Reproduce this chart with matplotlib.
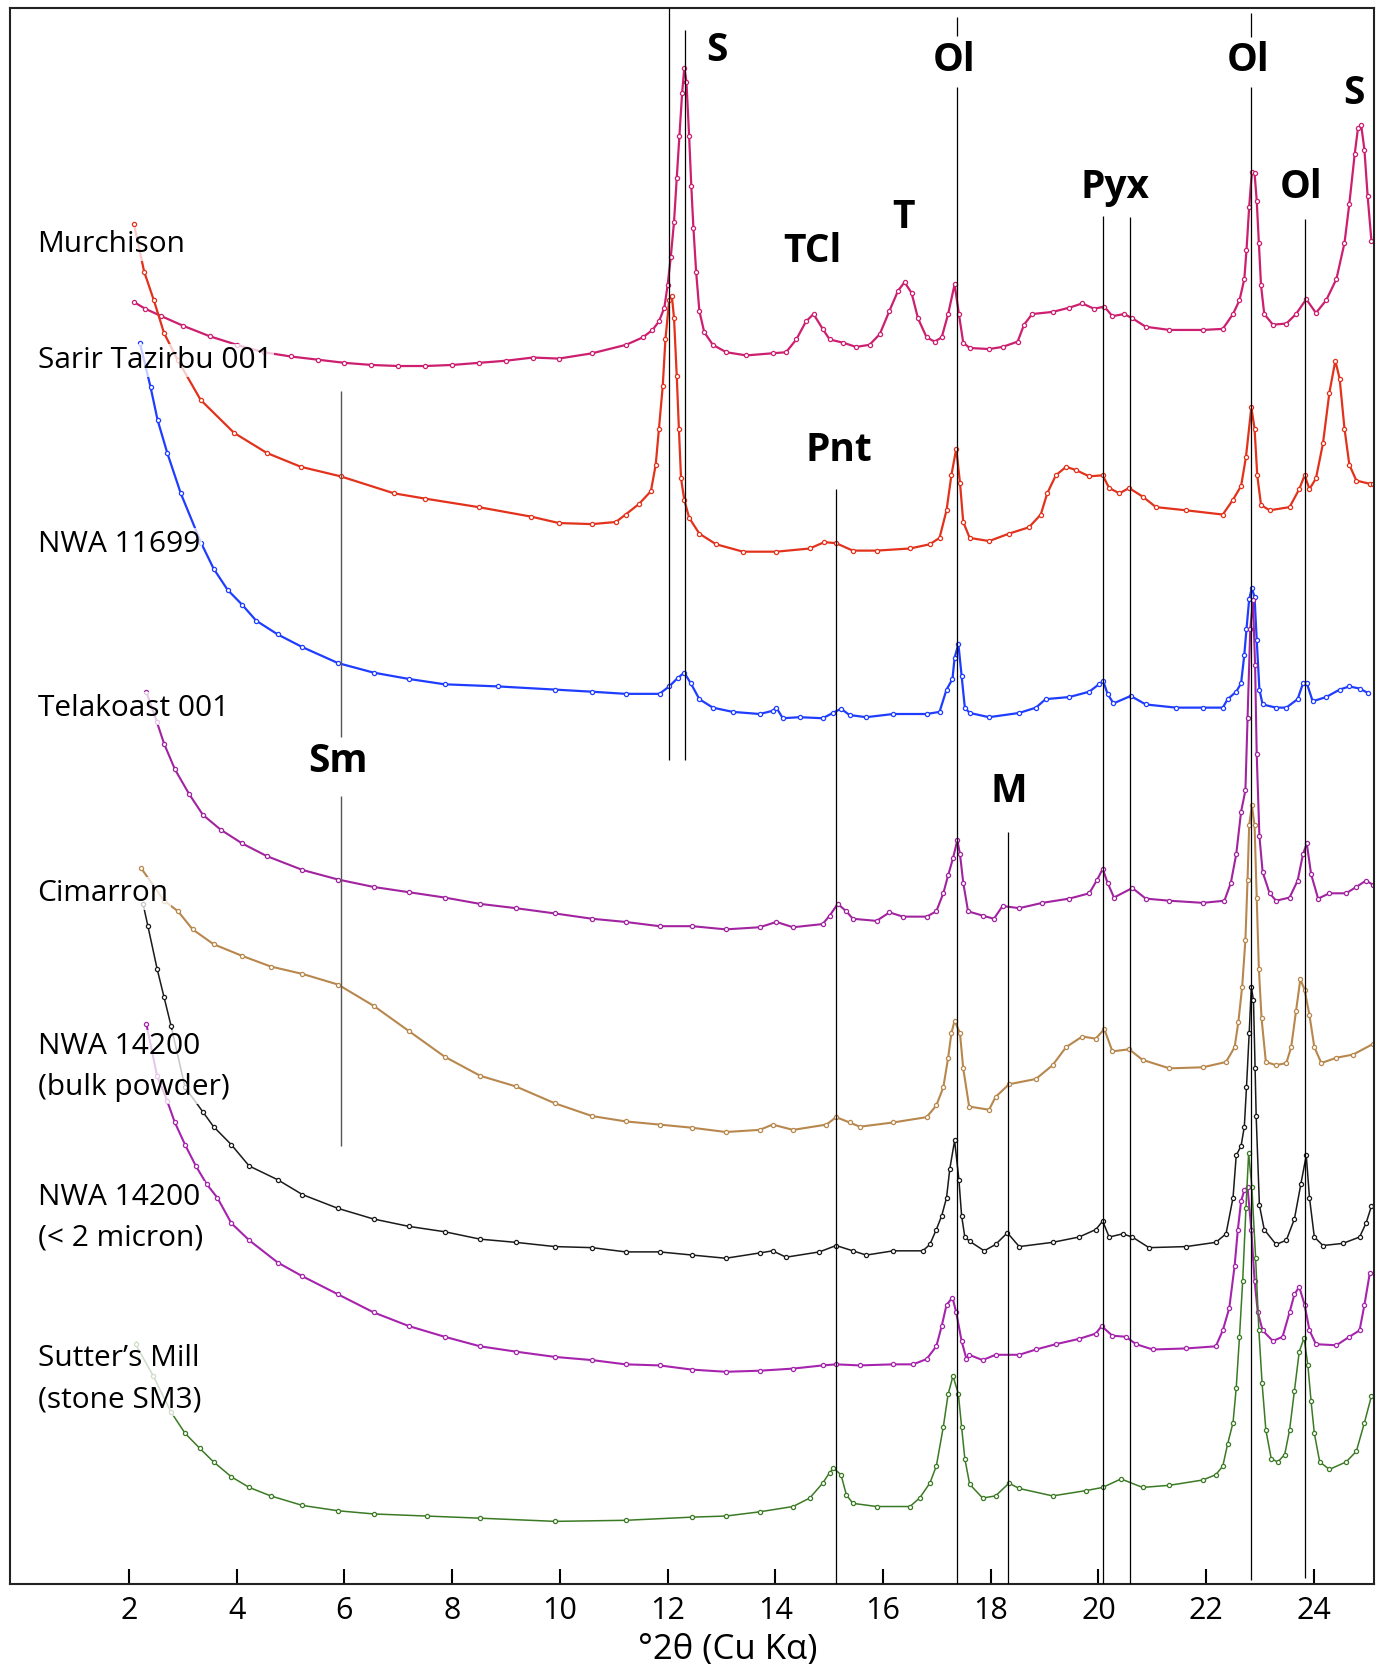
import matplotlib
matplotlib.use("Agg")
import matplotlib.pyplot as plt

# XRD traces, stacked (x in deg 2theta, y in offset intensity)
murchison = [(2.10, 1208), (2.3, 1202), (2.6, 1195), (3.0, 1186), (3.5, 1176), (4.0, 1168), (4.5, 1161),
             (5.0, 1157), (5.5, 1154), (6.0, 1151), (6.5, 1149), (7.0, 1148), (7.5, 1148), (8.0, 1149),
             (8.5, 1151), (9.0, 1153), (9.5, 1156), (9.98, 1155), (10.6, 1160), (11.23, 1168), (11.54, 1175),
             (11.72, 1182), (11.84, 1190), (11.94, 1203), (12.0, 1224), (12.06, 1251), (12.12, 1284),
             (12.17, 1325), (12.22, 1365), (12.27, 1405), (12.31, 1429), (12.35, 1416), (12.40, 1365),
             (12.44, 1318), (12.48, 1278), (12.53, 1237), (12.59, 1200), (12.68, 1180), (12.84, 1168),
             (13.09, 1161), (13.46, 1158), (13.95, 1160), (14.2, 1161), (14.39, 1173), (14.57, 1190),
             (14.71, 1197), (14.88, 1183), (15.01, 1173), (15.26, 1170), (15.5, 1166), (15.75, 1168),
             (15.94, 1178), (16.12, 1200), (16.28, 1219), (16.40, 1227), (16.53, 1217), (16.65, 1193),
             (16.81, 1175), (16.96, 1171), (17.09, 1175), (17.21, 1197), (17.33, 1225), (17.41, 1197),
             (17.49, 1170), (17.61, 1165), (17.97, 1164), (18.22, 1166), (18.5, 1171), (18.62, 1187),
             (18.77, 1197), (19.15, 1199), (19.46, 1203), (19.7, 1207), (19.92, 1202), (20.11, 1204),
             (20.26, 1195), (20.48, 1197), (20.63, 1193), (20.88, 1185), (21.32, 1182), (21.94, 1182),
             (22.31, 1183), (22.5, 1197), (22.62, 1210), (22.71, 1230), (22.75, 1257), (22.80, 1298),
             (22.85, 1331), (22.90, 1330), (22.94, 1304), (22.98, 1264), (23.02, 1224), (23.08, 1197),
             (23.24, 1187), (23.49, 1188), (23.67, 1197), (23.86, 1211), (24.04, 1198), (24.23, 1210),
             (24.42, 1230), (24.57, 1264), (24.66, 1301), (24.76, 1348), (24.82, 1372), (24.88, 1375),
             (24.94, 1352), (25.0, 1308), (25.07, 1266)]

sarir = [(2.09, 1282), (2.28, 1237), (2.46, 1210), (2.65, 1179), (2.9, 1154), (3.33, 1116), (3.95, 1085),
         (4.56, 1066), (5.19, 1053), (5.93, 1044), (6.92, 1028), (7.5, 1023), (8.49, 1015), (9.47, 1006),
         (9.98, 1000), (10.6, 999), (11.04, 1001), (11.22, 1008), (11.47, 1018), (11.69, 1030), (11.78, 1055),
         (11.84, 1089), (11.91, 1129), (11.96, 1173), (12.03, 1210), (12.08, 1214), (12.12, 1193),
         (12.17, 1139), (12.21, 1089), (12.25, 1042), (12.31, 1022), (12.40, 1005), (12.59, 990), (12.9, 980),
         (13.4, 973), (14.02, 973), (14.64, 976), (14.91, 982), (15.13, 981), (15.44, 974), (15.88, 974),
         (16.5, 976), (16.87, 980), (17.05, 986), (17.18, 1012), (17.27, 1045), (17.36, 1070), (17.43, 1038),
         (17.49, 1001), (17.61, 986), (17.97, 983), (18.34, 990), (18.71, 996), (18.93, 1008), (19.05, 1028),
         (19.21, 1045), (19.4, 1053), (19.58, 1050), (19.83, 1044), (20.08, 1045), (20.2, 1033), (20.39, 1028),
         (20.57, 1033), (20.82, 1025), (21.07, 1015), (21.63, 1012), (22.31, 1008), (22.5, 1022), (22.65, 1035),
         (22.74, 1062), (22.84, 1109), (22.9, 1089), (22.95, 1045), (23.02, 1017), (23.18, 1012), (23.55, 1015),
         (23.73, 1032), (23.83, 1045), (23.92, 1032), (24.04, 1042), (24.17, 1075), (24.29, 1123), (24.4, 1153),
         (24.48, 1136), (24.57, 1089), (24.66, 1055), (24.79, 1040), (25.04, 1037), (25.1, 1037)]

nwa11699 = [(2.2, 1170), (2.4, 1128), (2.53, 1097), (2.71, 1066), (2.96, 1028), (3.34, 981), (3.57, 957),
            (3.83, 937), (4.1, 923), (4.36, 908), (4.76, 895), (5.22, 883), (5.88, 868), (6.54, 859), (7.2, 853),
            (7.86, 848), (8.85, 846), (9.91, 843), (10.6, 841), (11.22, 839), (11.85, 839), (12.03, 846),
            (12.19, 854), (12.31, 859), (12.43, 849), (12.59, 834), (12.84, 826), (13.21, 822), (13.71, 820),
            (13.95, 823), (14.02, 826), (14.14, 816), (14.45, 817), (14.88, 816), (15.07, 821), (15.22, 825),
            (15.38, 819), (15.69, 817), (16.19, 820), (16.81, 820), (17.05, 822), (17.18, 843), (17.29, 853),
            (17.33, 873), (17.4, 886), (17.46, 856), (17.52, 826), (17.61, 821), (17.97, 817), (18.53, 821),
            (18.84, 826), (19.02, 834), (19.46, 836), (19.83, 841), (20.01, 848), (20.09, 851), (20.17, 839),
            (20.28, 830), (20.6, 837), (20.88, 829), (21.44, 826), (21.94, 826), (22.31, 826), (22.4, 834),
            (22.56, 841), (22.65, 849), (22.71, 876), (22.75, 900), (22.8, 928), (22.85, 939), (22.9, 930),
            (22.94, 890), (22.99, 843), (23.05, 829), (23.3, 826), (23.49, 826), (23.7, 834), (23.8, 849),
            (23.87, 849), (23.98, 832), (24.23, 836), (24.48, 843), (24.66, 846), (24.85, 844), (25.0, 840)]

telakoast = [(2.32, 841), (2.52, 812), (2.65, 792), (2.85, 768), (3.11, 745), (3.37, 725), (3.7, 711),
             (4.1, 698), (4.56, 686), (5.22, 673), (5.88, 664), (6.54, 657), (7.2, 652), (7.86, 647), (8.52, 641),
             (9.18, 637), (9.91, 632), (10.6, 627), (11.22, 624), (11.85, 620), (12.46, 620), (13.08, 617),
             (13.71, 619), (14.02, 624), (14.33, 619), (14.88, 622), (15.01, 630), (15.16, 641), (15.32, 634),
             (15.44, 627), (15.88, 625), (16.12, 633), (16.37, 629), (16.81, 629), (16.99, 634), (17.12, 651),
             (17.21, 668), (17.3, 684), (17.38, 701), (17.43, 688), (17.49, 661), (17.58, 634), (17.85, 630),
             (18.06, 627), (18.22, 639), (18.53, 637), (18.96, 642), (19.46, 646), (19.83, 651), (19.98, 664),
             (20.08, 674), (20.17, 661), (20.29, 647), (20.63, 656), (20.88, 646), (21.32, 644), (21.94, 642),
             (22.34, 644), (22.46, 661), (22.56, 688), (22.65, 728), (22.73, 748), (22.77, 816), (22.82, 900),
             (22.87, 927), (22.91, 866), (22.94, 782), (22.99, 705), (23.05, 671), (23.18, 651), (23.3, 644),
             (23.55, 647), (23.7, 663), (23.8, 688), (23.87, 698), (23.95, 669), (24.08, 646), (24.29, 651),
             (24.6, 651), (24.79, 657), (24.97, 663), (25.1, 659)]

cimarron = [(2.22, 675), (2.65, 644), (2.91, 634), (3.18, 617), (3.57, 603), (4.1, 592), (4.63, 582), (5.22, 575),
            (5.88, 565), (6.54, 545), (7.2, 521), (7.86, 497), (8.52, 479), (9.18, 469), (9.91, 453), (10.6, 441),
            (11.22, 436), (11.85, 433), (12.46, 430), (13.08, 426), (13.71, 428), (13.95, 433), (14.33, 428),
            (14.95, 433), (15.13, 440), (15.38, 435), (15.57, 431), (16.19, 435), (16.81, 440), (16.99, 451),
            (17.12, 468), (17.21, 496), (17.27, 519), (17.33, 531), (17.43, 519), (17.49, 486), (17.6, 450),
            (17.97, 447), (18.09, 459), (18.34, 471), (18.84, 476), (19.15, 489), (19.4, 506), (19.7, 516),
            (19.95, 514), (20.11, 523), (20.26, 502), (20.57, 504), (20.82, 494), (21.32, 486), (21.94, 487),
            (22.37, 492), (22.53, 506), (22.6, 530), (22.67, 563), (22.73, 607), (22.77, 664), (22.8, 715),
            (22.85, 734), (22.9, 715), (22.94, 647), (22.98, 580), (23.03, 533), (23.11, 492), (23.3, 489),
            (23.49, 491), (23.58, 506), (23.67, 540), (23.75, 570), (23.83, 560), (23.92, 536), (24.01, 506),
            (24.14, 491), (24.42, 496), (24.73, 499), (25.1, 509)]

nwa14200_bulk = [(2.26, 641), (2.35, 620), (2.52, 580), (2.65, 553), (2.78, 526), (3.04, 468), (3.37, 445),
                 (3.57, 431), (3.9, 414), (4.23, 394), (4.76, 381), (5.22, 367), (5.88, 354), (6.54, 344),
                 (7.2, 337), (7.86, 332), (8.52, 325), (9.18, 322), (9.91, 318), (10.6, 317), (11.22, 313),
                 (11.85, 313), (12.46, 310), (13.08, 307), (13.71, 312), (13.95, 314), (14.2, 308), (14.82, 313),
                 (15.13, 319), (15.44, 314), (15.69, 310), (16.19, 314), (16.74, 314), (16.87, 320), (16.99, 334),
                 (17.09, 347), (17.18, 364), (17.24, 391), (17.33, 418), (17.41, 381), (17.46, 347), (17.52, 327),
                 (17.61, 323), (17.88, 314), (18.09, 320), (18.31, 331), (18.53, 318), (19.15, 322), (19.64, 327),
                 (19.95, 334), (20.08, 342), (20.2, 327), (20.45, 330), (20.63, 327), (20.94, 317), (21.63, 318),
                 (22.18, 322), (22.37, 330), (22.5, 364), (22.56, 404), (22.65, 413), (22.71, 431), (22.75, 468),
                 (22.8, 519), (22.84, 563), (22.88, 550), (22.91, 486), (22.93, 441), (22.99, 357), (23.08, 334),
                 (23.3, 320), (23.49, 324), (23.64, 344), (23.76, 377), (23.86, 404), (23.92, 364), (24.01, 327),
                 (24.17, 319), (24.54, 321), (24.85, 327), (24.97, 340), (25.07, 356)]

nwa14200_fine = [(2.32, 528), (2.52, 479), (2.71, 455), (2.85, 435), (3.04, 414), (3.24, 394), (3.44, 377),
                 (3.64, 364), (3.9, 340), (4.23, 324), (4.76, 303), (5.22, 290), (5.88, 273), (6.54, 256),
                 (7.2, 243), (7.86, 233), (8.52, 224), (9.18, 219), (9.91, 214), (10.6, 211), (11.22, 207),
                 (11.85, 206), (12.46, 202), (13.08, 200), (13.71, 201), (14.33, 203), (14.88, 206), (15.13, 207),
                 (15.57, 206), (16.19, 207), (16.56, 207), (16.81, 212), (16.99, 224), (17.09, 243), (17.18, 263),
                 (17.29, 270), (17.36, 256), (17.46, 229), (17.55, 212), (17.6, 216), (17.85, 211), (18.09, 216),
                 (18.53, 216), (18.84, 221), (19.21, 226), (19.64, 231), (19.95, 236), (20.06, 243), (20.26, 234),
                 (20.51, 233), (20.7, 226), (21.01, 221), (21.63, 222), (22.18, 224), (22.31, 239), (22.43, 260),
                 (22.53, 300), (22.59, 334), (22.65, 361), (22.71, 371), (22.77, 374), (22.84, 334), (22.9, 286),
                 (22.96, 256), (23.05, 239), (23.24, 229), (23.42, 233), (23.55, 256), (23.64, 273), (23.73, 280),
                 (23.83, 263), (23.92, 239), (24.04, 226), (24.42, 225), (24.66, 233), (24.85, 239), (24.94, 263),
                 (25.04, 293)]

sutters = [(2.12, 226), (2.45, 196), (2.78, 162), (3.04, 142), (3.31, 128), (3.57, 115), (3.9, 101), (4.23, 91),
           (4.63, 83), (5.22, 74), (5.88, 69), (6.54, 66), (7.53, 64), (8.52, 62), (9.91, 59), (11.22, 60),
           (12.46, 63), (13.08, 64), (13.71, 68), (14.33, 73), (14.64, 81), (14.88, 95), (15.01, 105), (15.08, 109),
           (15.22, 103), (15.32, 84), (15.44, 76), (15.88, 73), (16.5, 73), (16.68, 81), (16.87, 95), (16.99, 111),
           (17.12, 148), (17.21, 179), (17.3, 196), (17.4, 179), (17.46, 148), (17.52, 118), (17.61, 94),
           (17.85, 81), (18.09, 83), (18.34, 95), (18.53, 90), (19.15, 83), (19.77, 88), (20.08, 91), (20.42, 99),
           (20.82, 91), (21.32, 93), (21.94, 98), (22.18, 103), (22.31, 111), (22.4, 132), (22.5, 152),
           (22.56, 185), (22.62, 233), (22.68, 286), (22.74, 354), (22.79, 406), (22.85, 374), (22.92, 307),
           (22.98, 239), (23.04, 189), (23.11, 145), (23.21, 118), (23.33, 115), (23.46, 122), (23.55, 145),
           (23.64, 182), (23.73, 219), (23.82, 232), (23.89, 206), (23.95, 172), (24.01, 142), (24.11, 115),
           (24.29, 108), (24.6, 115), (24.79, 125), (24.94, 152), (25.07, 177)]

traces = [murchison, sarir, nwa11699, telakoast, cimarron, nwa14200_bulk, nwa14200_fine, sutters]
colors = ['#cc1f70', '#e2321c', '#1f3dff', '#a1239f', '#b8874d', '#1a1a1a', '#a624ad', '#3b7a24']
widths = [1.6, 1.6, 1.6, 1.5, 1.5, 1.1, 1.5, 1.1]

sample_names = ['Murchison', 'Sarir Tazirbu 001', 'NWA 11699', 'Telakoast 001', 'Cimarron',
                'NWA 14200\n(bulk powder)', 'NWA 14200\n(< 2 micron)', 'Sutter\u2019s Mill\n(stone SM3)']
sample_y = [1263, 1153, 980, 825, 651, 487, 345, 193]

# reference lines: x position and list of (ymin, ymax) segments
ref_lines = [(12.03, [(777, 1485)]), (12.33, [(777, 1465)]),
             (17.38, [(0, 1411), (1459, 1477)]), (15.12, [(0, 1032)]),
             (18.33, [(0, 709)]), (20.08, [(0, 1289)]), (20.58, [(0, 1288)]),
             (22.84, [(4, 1411), (1458, 1481)]), (23.84, [(6, 1287)])]
sm_line = (5.93, [(413, 743), (798, 1124)])

minerals = ['S', 'Ol', 'Ol', 'S', 'TCl', 'T', 'Pyx', 'Ol', 'Pnt', 'Sm', 'M']
mineral_x = [12.92, 17.32, 22.78, 24.75, 14.69, 16.39, 20.31, 23.76, 15.19, 5.88, 18.34]
mineral_y = [1445, 1436, 1436, 1405, 1256, 1288, 1316, 1316, 1068, 775, 747]

ticks = [2, 4, 6, 8, 10, 12, 14, 16, 18, 20, 22, 24]

plt.rcParams['font.family'] = ['Open Sans', 'DejaVu Sans']

fig = plt.figure(figsize=(13.77, 16.64), dpi=100)
ax = fig.add_axes([0.0073, 0.0481, 0.9906, 0.9468])

for tr, c, w in zip(traces, colors, widths):
    xs = [p[0] for p in tr]
    ys = [p[1] for p in tr]
    ax.plot(xs, ys, color=c, lw=w, marker='o', ms=3.0, mfc='white', mec=c, mew=0.9, zorder=2)

for x, segs in ref_lines:
    for y0, y1 in segs:
        ax.vlines(x, y0, y1, color='black', lw=0.9, zorder=3)
for y0, y1 in sm_line[1]:
    ax.vlines(sm_line[0], y0, y1, color='#555555', lw=1.0, zorder=3)

for name, y in zip(sample_names, sample_y):
    ax.text(0.30, y, name, ha='left', va='center', fontsize=21.5, color='black', linespacing=1.55,
            zorder=5, bbox=dict(fc='white', ec='none', alpha=0.75, pad=1.5))

for m, x, y in zip(minerals, mineral_x, mineral_y):
    ax.text(x, y, m, ha='center', va='center', fontsize=28, fontweight='bold', color='black', zorder=5)

ax.set_xlim(-0.21, 25.12)
ax.set_ylim(0, 1485)
ax.set_yticks([])
ax.set_xticks(ticks)
ax.tick_params(axis='x', direction='in', length=11, width=1.5, labelsize=22, pad=9)
for s in ax.spines.values():
    s.set_linewidth(1.5)
    s.set_color('#222222')
ax.set_xlabel('\u00b02\u03b8 (Cu K\u03b1)', fontsize=25)
ax.xaxis.set_label_coords(0.526, -0.031)

fig.savefig('out.png', dpi=100)
